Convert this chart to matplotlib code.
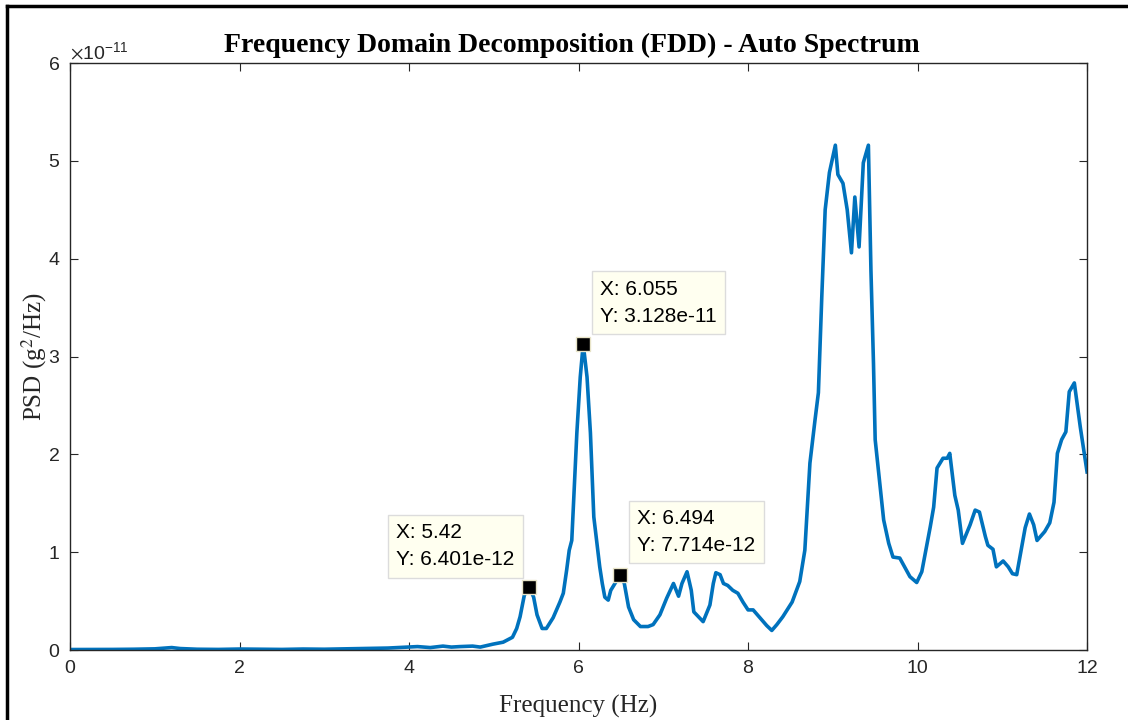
import matplotlib.pyplot as plt
from matplotlib.lines import Line2D
from matplotlib.ticker import ScalarFormatter

plt.rcParams['font.family'] = ['Liberation Sans', 'DejaVu Sans']
plt.rcParams['mathtext.fontset'] = 'stix'

freq = [0.0, 0.25, 0.5, 0.75, 1.0, 1.1, 1.2, 1.3, 1.5, 1.75, 2.0, 2.25, 2.5,
        2.75, 3.0, 3.25, 3.5, 3.75, 4.0, 4.1, 4.25, 4.4, 4.5, 4.6, 4.75, 4.84,
        4.99, 5.11, 5.22, 5.27, 5.31, 5.36, 5.42, 5.47, 5.51, 5.57, 5.62, 5.70,
        5.78, 5.82, 5.86, 5.89, 5.92, 5.98, 6.02, 6.055, 6.10, 6.14, 6.18, 6.25,
        6.28, 6.31, 6.35, 6.38, 6.43, 6.494, 6.54, 6.59, 6.65, 6.73, 6.82, 6.88,
        6.96, 7.04, 7.12, 7.18, 7.22, 7.28, 7.33, 7.36, 7.47, 7.55, 7.59, 7.62,
        7.67, 7.71, 7.76, 7.82, 7.88, 7.94, 8.00, 8.06, 8.14, 8.22, 8.28, 8.34,
        8.41, 8.52, 8.61, 8.67, 8.73, 8.79, 8.83, 8.87, 8.91, 8.96, 9.03, 9.06,
        9.12, 9.17, 9.22, 9.26, 9.31, 9.36, 9.42, 9.45, 9.48, 9.50, 9.55, 9.60,
        9.66, 9.71, 9.79, 9.91, 9.99, 10.05, 10.15, 10.19, 10.23, 10.30, 10.35,
        10.38, 10.44, 10.48, 10.53, 10.62, 10.68, 10.73, 10.80, 10.83, 10.89,
        10.93, 11.01, 11.07, 11.12, 11.17, 11.27, 11.32, 11.37, 11.41, 11.50,
        11.56, 11.61, 11.65, 11.70, 11.75, 11.79, 11.85, 11.92, 12.0]
psd = [0.005, 0.005, 0.006, 0.008, 0.012, 0.018, 0.025, 0.015, 0.008, 0.006,
       0.010, 0.008, 0.006, 0.010, 0.008, 0.012, 0.015, 0.020, 0.030, 0.035,
       0.025, 0.040, 0.030, 0.035, 0.040, 0.030, 0.060, 0.080, 0.130, 0.220,
       0.340, 0.560, 0.640, 0.540, 0.360, 0.220, 0.220, 0.330, 0.490, 0.580,
       0.820, 1.020, 1.120, 2.220, 2.790, 3.128, 2.790, 2.220, 1.360, 0.850,
       0.680, 0.540, 0.510, 0.610, 0.680, 0.7714, 0.680, 0.440, 0.310, 0.240,
       0.240, 0.260, 0.360, 0.530, 0.680, 0.550, 0.680, 0.800, 0.610, 0.390,
       0.290, 0.460, 0.680, 0.790, 0.770, 0.680, 0.660, 0.610, 0.580, 0.490,
       0.410, 0.410, 0.330, 0.250, 0.200, 0.260, 0.340, 0.490, 0.700, 1.020,
       1.910, 2.350, 2.630, 3.610, 4.500, 4.880, 5.160, 4.860, 4.770, 4.500,
       4.060, 4.630, 4.120, 4.980, 5.160, 3.880, 2.930, 2.150, 1.740, 1.330,
       1.090, 0.950, 0.940, 0.750, 0.690, 0.800, 1.260, 1.460, 1.860, 1.960,
       1.960, 2.010, 1.580, 1.430, 1.090, 1.280, 1.430, 1.410, 1.160, 1.070,
       1.030, 0.850, 0.910, 0.850, 0.780, 0.770, 1.250, 1.390, 1.280, 1.120,
       1.210, 1.300, 1.510, 2.010, 2.150, 2.230, 2.640, 2.730, 2.280, 1.820]

tip_x = [5.42, 6.055, 6.494]
tip_y = [6.401e-12, 3.128e-11, 7.714e-12]
tip_labels = ["5.42", "6.055", "6.494"]
tip_ylabels = ["6.401e-12", "3.128e-11", "7.714e-12"]

fig = plt.figure(figsize=(11.28, 7.2), dpi=100)
ax = fig.add_axes([0.0621, 0.0972, 0.9016, 0.8153])

psd_vals = [v * 1e-11 for v in psd]
ax.plot(freq, psd_vals, color='#0072BD', linewidth=2.6, solid_joinstyle='round')

ax.set_xlim(0, 12)
ax.set_ylim(0, 6e-11)
ax.set_xticks([0, 2, 4, 6, 8, 10, 12])
ax.set_yticks([i * 1e-11 for i in range(7)])
fmt = ScalarFormatter(useMathText=True)
fmt.set_powerlimits((0, 0))
ax.yaxis.set_major_formatter(fmt)
ax.yaxis.get_offset_text().set_fontsize(14)
ax.yaxis.get_offset_text().set_color('#262626')

ax.tick_params(direction='in', top=True, right=True, length=6, width=0.8,
               colors='#262626', labelsize=14, pad=7)
for s in ax.spines.values():
    s.set_color('#262626')
    s.set_linewidth(1.0)

ax.set_title("Frequency Domain Decomposition (FDD) - Auto Spectrum",
             fontfamily='Liberation Serif', fontweight='bold', fontsize=20,
             pad=8, x=0.493)
ax.set_xlabel("Frequency (Hz)", fontfamily='Liberation Serif', fontsize=18,
              labelpad=13, color='#262626')
ax.set_ylabel("PSD (g$^2$/Hz)", fontfamily='Liberation Serif', fontsize=18,
              color='#262626')
ax.yaxis.set_label_coords(-0.021, 0.5)

# datatips
offsets = [(-96, 13), (12, 13), (12, 14)]
for x, y, lx, ly, off in zip(tip_x, tip_y, tip_labels, tip_ylabels, offsets):
    ax.plot(x, y, marker='s', markersize=10, color='black',
            markeredgecolor='#e8e4c8', markeredgewidth=1.0, zorder=5)
    ax.annotate("X: " + lx + "\nY: " + ly, xy=(x, y), xytext=off,
                textcoords='offset points', ha='left', va='bottom',
                fontsize=15, linespacing=1.55,
                bbox=dict(boxstyle='square,pad=0.4', facecolor='#fffff0',
                          edgecolor='#dcdcdc', linewidth=1.0), zorder=6)

# outer figure frame (top and left edges visible)
fig.add_artist(Line2D([0.0062, 0.0062], [0, 0.992], transform=fig.transFigure,
                      color='black', linewidth=2.5))
fig.add_artist(Line2D([0.0062, 1.0], [0.992, 0.992], transform=fig.transFigure,
                      color='black', linewidth=2.5))

fig.savefig("out.png", dpi=100)
